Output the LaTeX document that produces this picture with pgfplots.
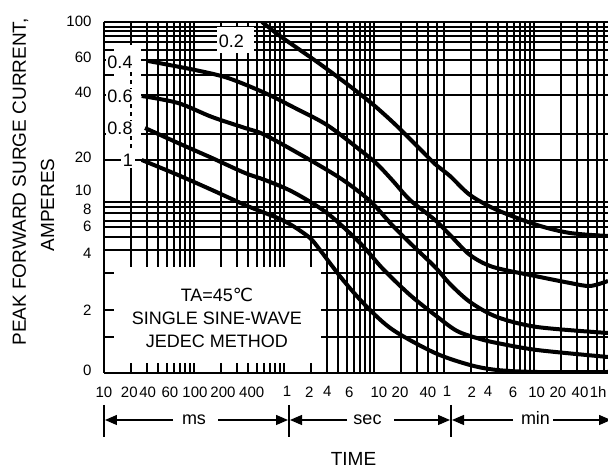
\documentclass[border=0pt]{standalone}
\usepackage{fontspec}
\setmainfont{Liberation Sans}
\newfontfamily\dejavu{DejaVu Sans}
\usepackage{pgfplots}
\pgfplotsset{compat=1.18}
\usetikzlibrary{arrows.meta}

% same as the standard layer set, but "pre main" sits between grid and ticks,
% so white patches hide the grid and leave the tick marks visible
\pgfplotsset{
  layers/patched/.define layer set={
    axis background,axis grid,pre main,axis ticks,axis lines,
    axis tick labels,main,axis descriptions,axis foreground
  }{
    grid style={/pgfplots/on layer=axis grid},
    tick style={/pgfplots/on layer=axis ticks},
    axis line style={/pgfplots/on layer=axis lines},
    label style={/pgfplots/on layer=axis descriptions},
    legend style={/pgfplots/on layer=axis descriptions},
    title style={/pgfplots/on layer=axis descriptions},
    colorbar style={/pgfplots/on layer=axis descriptions},
    ticklabel style={/pgfplots/on layer=axis tick labels},
    axis background@ style={/pgfplots/on layer=axis background},
    3d box foreground style={/pgfplots/on layer=axis foreground},
  },
}

\newcommand{\fs}[1]{\fontsize{#1}{#1}\selectfont}

\begin{document}
\begin{tikzpicture}
\begin{axis}[
  set layers=patched,
  at={(0pt,0pt)}, anchor=south west,
  scale only axis, width=504pt, height=351.3pt,
  xmode=log, xmin=0.01, xmax=3981,
  ymin=0, ymax=351.3,
  axis lines*=left,
  axis line style={line width=2pt, black},
  tick align=inside,
  major tick length=0pt, minor tick length=10pt,
  minor tick style={line width=2pt, black},
  xmajorgrids=false, ymajorgrids=false,
  xminorgrids=true, yminorgrids=true,
  minor grid style={line width=2pt, black},
  % time axis in seconds
  xtick={0.01,0.0191,0.0306,0.0541,0.1026,0.210,0.4378,1.08,1.911,3.028,5.3,
         11.36,19.45,39.8,64.7,121.8,184.8,350,642,1107,1945,3100},
  xticklabels={10,20,40,60,100,200,400,1,2,4,6,10,20,40,1,2,4,6,10,20,40,1h},
  minor xtick={0.02,0.03,0.04,0.05,0.06,0.07,0.08,0.09,0.1,
               0.2,0.3,0.4,0.5,0.6,0.7,0.8,0.9,1,
               2,3,4,5,6,7,8,9,10,
               20,30,40,50,60,
               120,180,240,300,360,420,480,540,600,
               1200,1800,2400,3000,3600},
  % current axis drawn on the datasheet's own (non-uniform) scale
  ytick={3,63,120,147,164,183,216,281,316,351.3},
  yticklabels={0,2,4,6,8,10,20,40,60,100},
  minor ytick={36.3,63,99.7,123,136.3,145.7,152.3,159.7,166.3,171.3,
               213,239,278,298,313,323,331.3,337,342.3,346.3,351.3},
  xticklabel style={font=\fs{15}, yshift=-10pt},
  yticklabel style={font=\fs{15}, xshift=-9pt},
]
\begin{pgfonlayer}{pre main}
  \fill[white] (axis cs:0.01,217) rectangle (axis cs:0.02577,328);
  \fill[white] (axis cs:0.01,0) rectangle (axis cs:2.577,106);
\end{pgfonlayer}

% 0.2
\addplot[black, line width=4pt, smooth] coordinates {
  (0.5693,351) (0.9027,337) (1.506,323) (2.512,309) (5.012,289) (9.027,271)
  (13.25,258) (19.45,244) (32.44,224) (47.62,209) (69.89,197) (116.6,178)
  (232.6,163) (647.3,148) (1506,140) (3981,137)};
% 0.4
\addplot[black, line width=4pt, smooth] coordinates {
  (0.03083,312) (0.1026,303) (0.2386,295) (0.6150,280) (1.259,266) (3.005,248)
  (6.988,223) (10.80,209) (16.26,192) (25.12,173) (47.62,153) (69.89,138)
  (116.6,118) (210.1,106) (615.0,97) (1506,90) (2512,87) (3981,92)};
% 0.6
\addplot[black, line width=4pt, smooth] coordinates {
  (0.02624,277) (0.06643,270) (0.1585,256) (0.3686,245) (0.6150,238) (1.945,213)
  (4.524,193) (9.027,172) (16.26,147) (25.12,130) (47.62,106) (69.89,89)
  (116.6,71) (232.6,56) (647.3,46) (3981,40)};
% 0.8
\addplot[black, line width=4pt, smooth] coordinates {
  (0.02855,245) (0.06643,230) (0.1585,215) (0.3686,200) (0.6150,193) (1.259,181)
  (3.005,160) (6.988,130) (12.59,104) (25.12,78) (47.62,58) (83.63,42)
  (151,34) (232.6,30) (647.3,23) (3981,16)};
% 1
\addplot[black, line width=4pt, smooth] coordinates {
  (0.02624,213) (0.06643,198) (0.1585,183) (0.3686,168) (0.6150,160)
  (0.9027,154) (1.259,147) (1.945,135) (2.512,123) (4.524,93) (8.363,66)
  (16.26,43) (47.62,20) (116.6,8) (232.6,3) (647.3,1) (3981,1)};

\draw[black, line width=1.5pt, dash pattern=on 4pt off 4pt]
  (axis cs:0.02,217) -- (axis cs:0.02,303);
\node[fill=white, inner sep=1pt, font=\fs{18}] at (axis cs:0.01506,311) {0.4};
\node[fill=white, inner sep=1pt, font=\fs{18}] at (axis cs:0.01506,277) {0.6};
\node[fill=white, inner sep=1pt, font=\fs{18}] at (axis cs:0.01506,245) {0.8};
\node[fill=white, inner sep=1.5pt, font=\fs{18}] at (axis cs:0.01848,213) {1};
\fill[white] (axis cs:0.18,320) rectangle (axis cs:0.4642,346);
\node[font=\fs{18}] at (axis cs:0.2610,331.5) {0.2};

\node[font=\fs{18}] at (axis cs:0.18,78) {TA=45{\dejavu ℃}};
\node[font=\fs{18}] at (axis cs:0.18,55) {SINGLE SINE-WAVE};
\node[font=\fs{18}] at (axis cs:0.18,32) {JEDEC METHOD};
\end{axis}

% ms / sec / min ranges under the time axis
\begin{scope}[line width=1.3pt, black]
  \draw (0pt,-32pt) -- (0pt,-64pt);
  \draw (185pt,-32pt) -- (185pt,-64pt);
  \draw (347pt,-32pt) -- (347pt,-64pt);
  \draw[-{Triangle[length=12pt,width=10pt]}] (69pt,-47pt) -- (1pt,-47pt);
  \draw[-{Triangle[length=12pt,width=10pt]}] (114pt,-47pt) -- (184pt,-47pt);
  \draw[-{Triangle[length=12pt,width=10pt]}] (243pt,-47pt) -- (186pt,-47pt);
  \draw[-{Triangle[length=12pt,width=10pt]}] (290pt,-47pt) -- (346pt,-47pt);
  \draw[-{Triangle[length=12pt,width=10pt]}] (409pt,-47pt) -- (348pt,-47pt);
  \draw[-{Triangle[length=12pt,width=10pt]}] (449pt,-47pt) -- (507pt,-47pt);
\end{scope}
\node[font=\fs{18}, anchor=base] at (90pt,-51.7pt) {ms};
\node[font=\fs{18}, anchor=base] at (263.5pt,-51.7pt) {sec};
\node[font=\fs{18}, anchor=base] at (431.5pt,-51.7pt) {min};
\node[font=\fs{19}, anchor=base] at (249.5pt,-92.5pt) {TIME};

\node[font=\fs{19}, rotate=90] at (-83.5pt,191pt) {PEAK FORWARD SURGE CURRENT,};
\node[font=\fs{19}, rotate=90] at (-56.5pt,168pt) {AMPERES};

% page = the reference's 608 x 470 frame
\pgfresetboundingbox
\useasboundingbox (-104pt,-97pt) rectangle (504pt,373pt);
\end{tikzpicture}
\end{document}
